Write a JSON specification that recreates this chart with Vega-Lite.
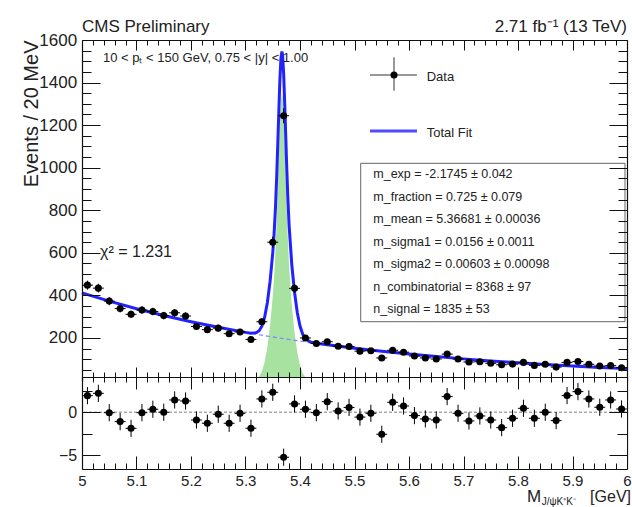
{
  "$schema": "https://vega.github.io/schema/vega-lite/v6.json",
  "width": 545,
  "height": 429,
  "autosize": {"type": "none"},
  "padding": {"left": 82, "top": 40, "right": 5, "bottom": 38},
  "background": "white",
  "config": {
    "font": "Liberation Sans",
    "view": {"stroke": null},
    "axis": {"grid": false, "ticks": false, "domainColor": "#111", "domainWidth": 1.2, "labelColor": "#222", "labelFont": "Liberation Sans", "titleFont": "Liberation Sans", "labelOverlap": false, "labelFlush": false, "labelBound": false, "zindex": 1, "gridColor": "#111", "gridOpacity": 1, "gridWidth": 1},
    "text": {"color": "#222"}
  },
  "datasets": {
    "bins": [
      {"m": 5.01, "n": 448, "e": 21.2, "xe": 0.01, "pull": 1.93, "pe": 1},
      {"m": 5.03, "n": 434, "e": 20.8, "xe": 0.01, "pull": 2.2, "pe": 1},
      {"m": 5.05, "n": 373, "e": 19.3, "xe": 0.01, "pull": -0.05, "pe": 1},
      {"m": 5.07, "n": 338, "e": 18.4, "xe": 0.01, "pull": -1.09, "pe": 1},
      {"m": 5.09, "n": 311, "e": 17.6, "xe": 0.01, "pull": -1.87, "pe": 1},
      {"m": 5.11, "n": 331, "e": 18.2, "xe": 0.01, "pull": -0.05, "pe": 1},
      {"m": 5.13, "n": 324, "e": 18.0, "xe": 0.01, "pull": 0.35, "pe": 1},
      {"m": 5.15, "n": 305, "e": 17.5, "xe": 0.01, "pull": 0.0, "pe": 1},
      {"m": 5.17, "n": 318, "e": 17.8, "xe": 0.01, "pull": 1.43, "pe": 1},
      {"m": 5.19, "n": 303, "e": 17.4, "xe": 0.01, "pull": 1.31, "pe": 1},
      {"m": 5.21, "n": 254, "e": 15.9, "xe": 0.01, "pull": -0.9, "pe": 1},
      {"m": 5.23, "n": 239, "e": 15.5, "xe": 0.01, "pull": -1.28, "pe": 1},
      {"m": 5.25, "n": 246, "e": 15.7, "xe": 0.01, "pull": -0.23, "pe": 1},
      {"m": 5.27, "n": 220, "e": 14.8, "xe": 0.01, "pull": -1.28, "pe": 1},
      {"m": 5.29, "n": 228, "e": 15.1, "xe": 0.01, "pull": -0.12, "pe": 1},
      {"m": 5.31, "n": 193, "e": 13.9, "xe": 0.01, "pull": -1.86, "pe": 1},
      {"m": 5.33, "n": 276, "e": 16.6, "xe": 0.01, "pull": 1.55, "pe": 1},
      {"m": 5.35, "n": 650, "e": 25.5, "xe": 0.01, "pull": 2.32, "pe": 1},
      {"m": 5.37, "n": 1244, "e": 35.3, "xe": 0.01, "pull": -5.23, "pe": 1},
      {"m": 5.39, "n": 433, "e": 20.8, "xe": 0.01, "pull": 0.97, "pe": 1},
      {"m": 5.41, "n": 200, "e": 14.1, "xe": 0.01, "pull": 0.35, "pe": 1},
      {"m": 5.43, "n": 174, "e": 13.2, "xe": 0.01, "pull": -0.05, "pe": 1},
      {"m": 5.45, "n": 182, "e": 13.5, "xe": 0.01, "pull": 1.23, "pe": 1},
      {"m": 5.47, "n": 161, "e": 12.7, "xe": 0.01, "pull": 0.15, "pe": 1},
      {"m": 5.49, "n": 160, "e": 12.6, "xe": 0.01, "pull": 0.56, "pe": 1},
      {"m": 5.51, "n": 138, "e": 11.7, "xe": 0.01, "pull": -0.56, "pe": 1},
      {"m": 5.53, "n": 140, "e": 11.8, "xe": 0.01, "pull": -0.12, "pe": 1},
      {"m": 5.55, "n": 106, "e": 10.3, "xe": 0.01, "pull": -2.56, "pe": 1},
      {"m": 5.57, "n": 142, "e": 11.9, "xe": 0.01, "pull": 1.16, "pe": 1},
      {"m": 5.59, "n": 133, "e": 11.5, "xe": 0.01, "pull": 0.73, "pe": 1},
      {"m": 5.61, "n": 115, "e": 10.7, "xe": 0.01, "pull": -0.39, "pe": 1},
      {"m": 5.63, "n": 106, "e": 10.3, "xe": 0.01, "pull": -0.78, "pe": 1},
      {"m": 5.65, "n": 101, "e": 10.0, "xe": 0.01, "pull": -0.9, "pe": 1},
      {"m": 5.67, "n": 124, "e": 11.1, "xe": 0.01, "pull": 1.82, "pe": 1},
      {"m": 5.69, "n": 101, "e": 10.0, "xe": 0.01, "pull": -0.12, "pe": 1},
      {"m": 5.71, "n": 87, "e": 9.3, "xe": 0.01, "pull": -1.01, "pe": 1},
      {"m": 5.73, "n": 88, "e": 9.4, "xe": 0.01, "pull": -0.43, "pe": 1},
      {"m": 5.75, "n": 81, "e": 9.0, "xe": 0.01, "pull": -0.9, "pe": 1},
      {"m": 5.77, "n": 74, "e": 8.6, "xe": 0.01, "pull": -1.79, "pe": 1},
      {"m": 5.79, "n": 77, "e": 8.8, "xe": 0.01, "pull": -0.7, "pe": 1},
      {"m": 5.81, "n": 85, "e": 9.2, "xe": 0.01, "pull": 0.46, "pe": 1},
      {"m": 5.83, "n": 71, "e": 8.4, "xe": 0.01, "pull": -0.7, "pe": 1},
      {"m": 5.85, "n": 76, "e": 8.7, "xe": 0.01, "pull": 0.0, "pe": 1},
      {"m": 5.87, "n": 63, "e": 7.9, "xe": 0.01, "pull": -0.97, "pe": 1},
      {"m": 5.89, "n": 85, "e": 9.2, "xe": 0.01, "pull": 1.94, "pe": 1},
      {"m": 5.91, "n": 89, "e": 9.4, "xe": 0.01, "pull": 2.4, "pe": 1},
      {"m": 5.93, "n": 76, "e": 8.7, "xe": 0.01, "pull": 1.55, "pe": 1},
      {"m": 5.95, "n": 68, "e": 8.2, "xe": 0.01, "pull": 0.58, "pe": 1},
      {"m": 5.97, "n": 70, "e": 8.4, "xe": 0.01, "pull": 1.43, "pe": 1},
      {"m": 5.99, "n": 60, "e": 7.7, "xe": 0.01, "pull": 0.38, "pe": 1}
    ],
    "fit": [
      {"m": 5.0, "bkg": 412.0, "sig": 0, "tot": 412.0},
      {"m": 5.05, "bkg": 372.8, "sig": 0, "tot": 372.8},
      {"m": 5.1, "bkg": 337.3, "sig": 0, "tot": 337.3},
      {"m": 5.15, "bkg": 305.2, "sig": 0, "tot": 305.2},
      {"m": 5.2, "bkg": 276.2, "sig": 0, "tot": 276.2},
      {"m": 5.25, "bkg": 249.9, "sig": 0, "tot": 249.9},
      {"m": 5.3, "bkg": 226.1, "sig": 0, "tot": 226.1},
      {"m": 5.31, "bkg": 221.6, "sig": 0.9, "tot": 222.5},
      {"m": 5.32, "bkg": 217.2, "sig": 7.6, "tot": 224.8},
      {"m": 5.325, "bkg": 215.1, "sig": 18.8, "tot": 233.9},
      {"m": 5.33, "bkg": 212.9, "sig": 42.1, "tot": 255.0},
      {"m": 5.335, "bkg": 210.8, "sig": 85.3, "tot": 296.1},
      {"m": 5.34, "bkg": 208.7, "sig": 155.6, "tot": 364.3},
      {"m": 5.345, "bkg": 206.6, "sig": 257.4, "tot": 464.0},
      {"m": 5.35, "bkg": 204.6, "sig": 394.8, "tot": 599.4},
      {"m": 5.3525, "bkg": 203.6, "sig": 487.0, "tot": 690.6},
      {"m": 5.355, "bkg": 202.5, "sig": 609.5, "tot": 812.0},
      {"m": 5.3575, "bkg": 201.5, "sig": 772.9, "tot": 974.4},
      {"m": 5.36, "bkg": 200.5, "sig": 972.2, "tot": 1172.7},
      {"m": 5.363, "bkg": 199.4, "sig": 1208.0, "tot": 1407.4},
      {"m": 5.365, "bkg": 198.5, "sig": 1314.4, "tot": 1512.9},
      {"m": 5.3668, "bkg": 197.8, "sig": 1348.0, "tot": 1545.8},
      {"m": 5.368, "bkg": 197.4, "sig": 1332.9, "tot": 1530.3},
      {"m": 5.37, "bkg": 196.6, "sig": 1245.6, "tot": 1442.2},
      {"m": 5.3725, "bkg": 195.6, "sig": 1063.6, "tot": 1259.2},
      {"m": 5.375, "bkg": 194.6, "sig": 857.4, "tot": 1052.0},
      {"m": 5.3775, "bkg": 193.6, "sig": 676.1, "tot": 869.7},
      {"m": 5.38, "bkg": 192.7, "sig": 536.4, "tot": 729.1},
      {"m": 5.385, "bkg": 190.8, "sig": 351.6, "tot": 542.4},
      {"m": 5.39, "bkg": 188.9, "sig": 225.6, "tot": 414.5},
      {"m": 5.395, "bkg": 187.0, "sig": 132.8, "tot": 319.8},
      {"m": 5.4, "bkg": 185.1, "sig": 70.6, "tot": 255.7},
      {"m": 5.405, "bkg": 183.3, "sig": 33.9, "tot": 217.2},
      {"m": 5.41, "bkg": 181.5, "sig": 14.7, "tot": 196.2},
      {"m": 5.42, "bkg": 177.9, "sig": 2.0, "tot": 179.9},
      {"m": 5.43, "bkg": 174.4, "sig": 0.2, "tot": 174.6},
      {"m": 5.45, "bkg": 167.5, "sig": 0, "tot": 167.5},
      {"m": 5.5, "bkg": 151.6, "sig": 0, "tot": 151.6},
      {"m": 5.55, "bkg": 137.2, "sig": 0, "tot": 137.2},
      {"m": 5.6, "bkg": 124.1, "sig": 0, "tot": 124.1},
      {"m": 5.65, "bkg": 112.3, "sig": 0, "tot": 112.3},
      {"m": 5.7, "bkg": 101.6, "sig": 0, "tot": 101.6},
      {"m": 5.75, "bkg": 91.9, "sig": 0, "tot": 91.9},
      {"m": 5.8, "bkg": 83.2, "sig": 0, "tot": 83.2},
      {"m": 5.85, "bkg": 75.3, "sig": 0, "tot": 75.3},
      {"m": 5.9, "bkg": 68.1, "sig": 0, "tot": 68.1},
      {"m": 5.95, "bkg": 61.6, "sig": 0, "tot": 61.6},
      {"m": 6.0, "bkg": 55.8, "sig": 0, "tot": 55.8}
    ]
  },
  "layer": [
    {
      "layer": [
        {
          "data": {"name": "fit"},
          "mark": {"type": "area", "color": "#a8e2a0", "opacity": 1},
          "encoding": {
            "x": {"field": "m", "type": "quantitative", "scale": {"domain": [5, 6], "nice": false, "zero": false}, "axis": null},
            "y": {"field": "sig", "type": "quantitative", "scale": {"domain": [0, 1600], "range": [340.5, 0], "nice": false, "zero": false}, "axis": null},
            "y2": {"datum": 0}
          }
        },
        {
          "data": {"name": "fit"},
          "mark": {"type": "line", "color": "#7f7fff", "strokeWidth": 1.2, "strokeDash": [4, 3]},
          "encoding": {
            "x": {"field": "m", "type": "quantitative",
              "axis": {"orient": "bottom", "offset": -92, "values": [5, 6], "labels": false, "title": null, "ticks": false, "grid": false}},
            "y": {"field": "bkg", "type": "quantitative",
              "axis": {"orient": "right", "values": [0, 1600], "labels": false, "title": null, "ticks": false, "grid": false}}
          }
        },
        {
          "data": {"name": "fit"},
          "mark": {"type": "line", "color": "#2222ff", "strokeWidth": 3},
          "encoding": {
            "x": {"field": "m", "type": "quantitative", "axis": null},
            "y": {"field": "tot", "type": "quantitative", "axis": null}
          }
        },
        {
          "data": {"name": "bins"},
          "mark": {"type": "errorbar", "color": "black", "thickness": 1},
          "encoding": {
            "x": {"field": "m", "type": "quantitative", "axis": null},
            "y": {"field": "n", "type": "quantitative", "axis": null},
            "yError": {"field": "e"}
          }
        },
        {
          "data": {"name": "bins"},
          "mark": {"type": "errorbar", "color": "black", "thickness": 1},
          "encoding": {
            "y": {"field": "n", "type": "quantitative", "axis": null},
            "x": {"field": "m", "type": "quantitative", "axis": null},
            "xError": {"field": "xe"}
          }
        },
        {
          "data": {"name": "bins"},
          "mark": {"type": "circle", "color": "black", "size": 50, "opacity": 1},
          "encoding": {
            "x": {"field": "m", "type": "quantitative", "axis": null},
            "y": {"field": "n", "type": "quantitative",
              "axis": {"orient": "left", "values": [50,100,150,200,250,300,350,400,450,500,550,600,650,700,750,800,850,900,950,1000,1050,1100,1150,1200,1250,1300,1350,1400,1450,1500,1550,1600], "ticks": false,
                "labelExpr": "datum.value % 200 === 0 ? format(datum.value, 'd') : ''", "labelFontSize": 17, "labelPadding": 5.3,
                "grid": true, "zindex": 1,
                "gridDash": {"condition": {"test": "datum.value % 200 === 0", "value": [18, 509, 18, 3000]}, "value": [9, 527, 9, 3000]},
                "title": "Events / 20 MeV", "titleFontSize": 20, "titleFontWeight": "normal", "titleColor": "#222",
                "titleX": -45, "titleY": 0, "titleAlign": "right", "titleAngle": 270, "titleBaseline": "alphabetic"}}
          }
        },
        {
          "data": {"values": [{}]},
          "mark": {"type": "text", "text": "CMS Preliminary", "align": "left", "baseline": "alphabetic", "fontSize": 17},
          "encoding": {"x": {"datum": 5.0, "type": "quantitative", "axis": null}, "y": {"datum": 1637, "type": "quantitative", "axis": null}}
        },
        {
          "data": {"values": [{}]},
          "mark": {"type": "text", "text": "2.71 fb⁻¹ (13 TeV)", "align": "right", "baseline": "alphabetic", "fontSize": 17},
          "encoding": {"x": {"datum": 6.0, "type": "quantitative", "axis": null}, "y": {"datum": 1637, "type": "quantitative", "axis": null}}
        },
        {
          "data": {"values": [{}]},
          "mark": {"type": "text", "text": "10 < pₜ < 150 GeV, 0.75 < |y| < 1.00", "align": "left", "baseline": "alphabetic", "fontSize": 13},
          "encoding": {"x": {"datum": 5.0385, "type": "quantitative", "axis": null}, "y": {"datum": 1497, "type": "quantitative", "axis": null}}
        },
        {
          "data": {"values": [{}]},
          "mark": {"type": "text", "text": "χ² = 1.231", "align": "left", "baseline": "alphabetic", "fontSize": 16},
          "encoding": {"x": {"datum": 5.033, "type": "quantitative", "axis": null}, "y": {"datum": 578, "type": "quantitative", "axis": null}}
        },
        {
          "data": {"values": [{}]},
          "mark": {"type": "rule", "color": "#333", "strokeWidth": 1},
          "encoding": {"x": {"datum": 5.5284, "type": "quantitative", "axis": null}, "x2": {"datum": 5.6147}, "y": {"datum": 1435.5, "type": "quantitative", "axis": null}}
        },
        {
          "data": {"values": [{}]},
          "mark": {"type": "rule", "color": "#333", "strokeWidth": 1},
          "encoding": {"x": {"datum": 5.5725, "type": "quantitative", "axis": null}, "y": {"datum": 1519, "type": "quantitative", "axis": null}, "y2": {"datum": 1362}}
        },
        {
          "data": {"values": [{}]},
          "mark": {"type": "circle", "color": "black", "size": 50, "opacity": 1},
          "encoding": {"x": {"datum": 5.5725, "type": "quantitative", "axis": null}, "y": {"datum": 1435.5, "type": "quantitative", "axis": null}}
        },
        {
          "data": {"values": [{}]},
          "mark": {"type": "text", "text": "Data", "align": "left", "baseline": "alphabetic", "fontSize": 13},
          "encoding": {"x": {"datum": 5.6325, "type": "quantitative", "axis": null}, "y": {"datum": 1407, "type": "quantitative", "axis": null}}
        },
        {
          "data": {"values": [{}]},
          "mark": {"type": "rule", "color": "#4d4dff", "strokeWidth": 3},
          "encoding": {"x": {"datum": 5.5284, "type": "quantitative", "axis": null}, "x2": {"datum": 5.6147}, "y": {"datum": 1172.4, "type": "quantitative", "axis": null}}
        },
        {
          "data": {"values": [{}]},
          "mark": {"type": "text", "text": "Total Fit", "align": "left", "baseline": "alphabetic", "fontSize": 13},
          "encoding": {"x": {"datum": 5.6325, "type": "quantitative", "axis": null}, "y": {"datum": 1145, "type": "quantitative", "axis": null}}
        },
        {
          "data": {"values": [{}]},
          "mark": {"type": "rect", "fill": "white", "stroke": "#666", "strokeWidth": 1},
          "encoding": {
            "x": {"datum": 5.5114, "type": "quantitative",
              "axis": {"orient": "top", "values": [5,5.02,5.04,5.06,5.08,5.1,5.12,5.14,5.16,5.18,5.2,5.22,5.24,5.26,5.28,5.3,5.32,5.34,5.36,5.38,5.4,5.42,5.44,5.46,5.48,5.5,5.52,5.54,5.56,5.58,5.6,5.62,5.64,5.66,5.68,5.7,5.72,5.74,5.76,5.78,5.8,5.82,5.84,5.86,5.88,5.9,5.92,5.94,5.96,5.98,6], "labels": false, "title": null, "ticks": false,
                "grid": true, "zindex": 1,
                "gridDash": {"condition": {"test": "abs(datum.value*10-round(datum.value*10))<0.001", "value": [0, 3.5, 10, 317, 10, 3000]}, "value": [0, 3.5, 5, 327, 5, 3000]}}},
            "x2": {"datum": 5.9963},
            "y": {"datum": 1020.6, "type": "quantitative", "axis": null},
            "y2": {"datum": 276.3}
          }
        },
        {
          "data": {"values": [{}]},
          "mark": {"type": "text", "align": "left", "baseline": "alphabetic", "fontSize": 12.5, "lineHeight": 22.55,
            "text": ["m_exp = -2.1745 ± 0.042", "m_fraction =  0.725 ± 0.079", "m_mean =  5.36681 ± 0.00036", "m_sigma1 =  0.0156 ± 0.0011", "m_sigma2 =  0.00603 ± 0.00098", "n_combinatorial =  8368 ± 97", "n_signal =  1835 ± 53"]},
          "encoding": {"x": {"datum": 5.5345, "type": "quantitative", "axis": null}, "y": {"datum": 951.6, "type": "quantitative", "axis": null}}
        }
      ],
      "resolve": {"axis": {"x": "independent", "y": "independent"}}
    },
    {
      "layer": [
        {
          "data": {"values": [{}]},
          "mark": {"type": "rect", "fill": "white"},
          "encoding": {
            "x": {"datum": 5, "type": "quantitative",
              "axis": {"orient": "top", "offset": -337, "values": [5,5.02,5.04,5.06,5.08,5.1,5.12,5.14,5.16,5.18,5.2,5.22,5.24,5.26,5.28,5.3,5.32,5.34,5.36,5.38,5.4,5.42,5.44,5.46,5.48,5.5,5.52,5.54,5.56,5.58,5.6,5.62,5.64,5.66,5.68,5.7,5.72,5.74,5.76,5.78,5.8,5.82,5.84,5.86,5.88,5.9,5.92,5.94,5.96,5.98,6], "labels": false, "title": null, "ticks": false,
                "grid": true, "zindex": 1,
                "gridDash": {"condition": {"test": "abs(datum.value*10-round(datum.value*10))<0.001", "value": [13, 67, 12, 3000]}, "value": [6, 81, 5, 3000]}}},
            "x2": {"datum": 6},
            "y": {"datum": 4.1, "type": "quantitative", "scale": {"domain": [-6.6, 4.1], "range": [429, 337], "nice": false, "zero": false},
              "axis": {"orient": "right", "values": [-5, 0], "labels": false, "title": null, "ticks": false, "grid": false}},
            "y2": {"datum": -6.6}
          }
        },
        {
          "data": {"values": [{}]},
          "mark": {"type": "rule", "color": "#aaaaaa", "strokeWidth": 1.5, "strokeDash": [3, 2]},
          "encoding": {"y": {"datum": 0, "type": "quantitative", "axis": null}}
        },
        {
          "data": {"name": "bins"},
          "mark": {"type": "errorbar", "color": "black", "thickness": 1},
          "encoding": {
            "x": {"field": "m", "type": "quantitative", "axis": null},
            "y": {"field": "pull", "type": "quantitative", "axis": null},
            "yError": {"field": "pe"}
          }
        },
        {
          "data": {"name": "bins"},
          "mark": {"type": "errorbar", "color": "black", "thickness": 1},
          "encoding": {
            "y": {"field": "pull", "type": "quantitative", "axis": null},
            "x": {"field": "m", "type": "quantitative", "axis": null},
            "xError": {"field": "xe"}
          }
        },
        {
          "data": {"name": "bins"},
          "mark": {"type": "circle", "color": "black", "size": 50, "opacity": 1},
          "encoding": {
            "x": {"field": "m", "type": "quantitative",
              "axis": {"orient": "bottom", "values": [5,5.1,5.2,5.3,5.4,5.5,5.6,5.7,5.8,5.9,6], "title": null, "ticks": false, "grid": false,
                "format": "~g", "labelFontSize": 15, "labelPadding": 4}},
            "y": {"field": "pull", "type": "quantitative",
              "axis": {"orient": "left", "values": [-5, -2.5, 0, 2.5], "title": null, "ticks": false,
                "labelExpr": "datum.value % 5 === 0 ? format(datum.value, 'd') : ''", "labelFontSize": 16, "labelPadding": 5.3,
                "grid": true, "zindex": 1,
                "gridDash": {"condition": {"test": "datum.value % 5 === 0", "value": [18, 509, 18, 3000]}, "value": [10, 525, 10, 3000]}}}
          }
        },
        {
          "data": {"values": [{}]},
          "mark": {"type": "text", "text": "M", "align": "left", "baseline": "alphabetic", "fontSize": 17},
          "encoding": {"x": {"datum": 5.8165, "type": "quantitative", "axis": null}, "y": {"datum": -10.38, "type": "quantitative", "axis": null}}
        },
        {
          "data": {"values": [{}]},
          "mark": {"type": "text", "text": "J/ψK⁺K⁻", "align": "left", "baseline": "alphabetic", "fontSize": 10},
          "encoding": {"x": {"datum": 5.8435, "type": "quantitative", "axis": null}, "y": {"datum": -10.73, "type": "quantitative", "axis": null}}
        },
        {
          "data": {"values": [{}]},
          "mark": {"type": "text", "text": "[GeV]", "align": "right", "baseline": "alphabetic", "fontSize": 16, "dx": 4},
          "encoding": {"x": {"datum": 6, "type": "quantitative", "axis": null}, "y": {"datum": -10.38, "type": "quantitative", "axis": null}}
        }
      ],
      "resolve": {"axis": {"x": "independent", "y": "independent"}}
    }
  ],
  "resolve": {"scale": {"y": "independent"}, "axis": {"x": "independent", "y": "independent"}}
}
